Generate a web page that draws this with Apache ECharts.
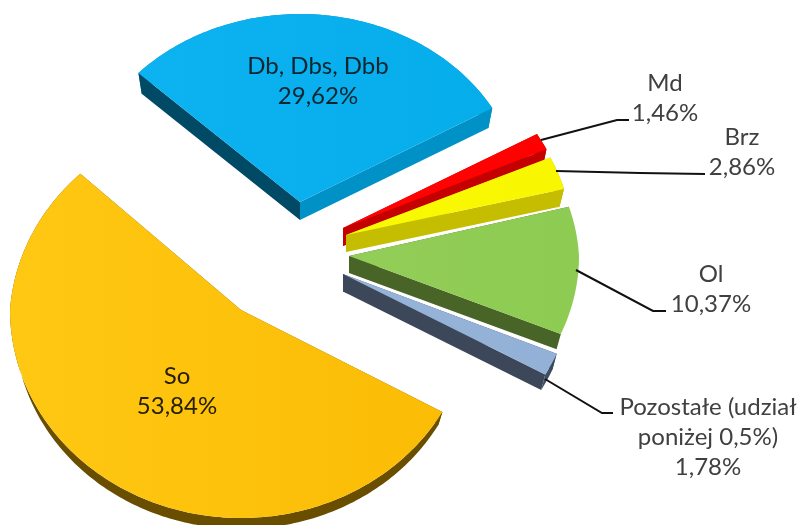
<!DOCTYPE html>
<html>
<head>
<meta charset="utf-8">
<style>html,body{margin:0;padding:0;background:#fff}#main{width:803px;height:525px}</style>
<script src="https://cdn.jsdelivr.net/npm/echarts@6/dist/echarts.min.js"></script>
</head>
<body>
<div id="main"></div>
<script>
var myChart = echarts.init(document.getElementById('main'));

// clockwise, starting from the upper left edge of Db
var categories = ['Db, Dbs, Dbb', 'Md', 'Brz', 'Ol', 'Pozostałe (udział\nponiżej 0,5%)', 'So'];
var shares = [29.62, 1.46, 2.86, 10.37, 1.78, 53.84];

// look of each slice: top colours, colour of the cut side, colour of the rim
var topLeft  = ['#0DB2F1', '#FF0505', '#FAF905', '#93CE58', '#96B4D8', '#FFC813'];
var topRight = ['#06ADEB', '#FF0000', '#F8F600', '#8DCB52', '#93B1D6', '#FBBC05'];
var sideLow  = ['#0092C6', '#C40000', '#C4BD00', '#486426', '#3C4859', '#6A4E00'];
var sideHigh = ['#004A66', '#D00000', '#C4BD00', '#486426', '#3C4859', '#6A4E00'];
var rimColor = ['#0092C6', '#C40000', '#C4BD00', null, '#3F4D60', '#6A4E00'];

// layout: apex of every exploded slice and its ellipse (perspective makes them differ)
var apexX = [300, 343, 346, 349, 343, 241];
var apexY = [202, 228, 235, 256, 274, 310];
var radX  = [222, 224, 225, 230, 232, 231];
var radY  = [188, 188, 185, 200, 205, 208];
var topShrink = [0, 0, 0, 0.05, 0, 0.065];
var depth = [18, 18, 17, 17, 17.5, 15];
var startAngle = 223.3;
var bottomScale = 0.98;

var labelX = [318, 665, 742, 711, 708, 177];
var labelY = [81, 98, 152, 289, 437, 391];
var labelColor = ['#0B2530', '#404040', '#404040', '#404040', '#404040', '#262000'];
var leaders = [
    null,
    [[541, 140], [617, 120], [629, 120]],
    [[556, 171], [640, 173], [705, 174]],
    [[576, 270], [653, 311], [666, 311]],
    [[545, 379], [602, 413], [613, 413]],
    null
];

var total = shares.reduce(function (a, b) { return a + b; }, 0);

function sliceAngles(idx) {
    var a = startAngle;
    for (var i = 0; i < idx; i++) {
        a += shares[i] / total * 360;
    }
    return [a, a + shares[idx] / total * 360];
}

function rimPoint(i, deg, scale, dy) {
    var t = deg * Math.PI / 180;
    var s = Math.sin(t);
    var k = scale * (s < 0 ? 1 + topShrink[i] * s : 1);
    return [
        apexX[i] + radX[i] * k * Math.cos(t),
        apexY[i] + radY[i] * k * s + dy
    ];
}

function poly(points, fill) {
    return {
        type: 'polygon',
        shape: { points: points },
        style: { fill: fill, stroke: null }
    };
}

function renderSlice(params, api) {
    var i = params.dataIndex;
    var ang = sliceAngles(i);
    var a0 = ang[0], a1 = ang[1];
    var d = depth[i];
    var topPts = [[apexX[i], apexY[i]]];
    var rimPts = [];
    var rimBack = [];
    for (var a = a0; ; a += 1) {
        var cur = Math.min(a, a1);
        var p = rimPoint(i, cur, 1, 0);
        topPts.push(p);
        rimPts.push(p);
        rimBack.unshift(rimPoint(i, cur, bottomScale, d));
        if (cur >= a1) break;
    }
    var apexBottom = [apexX[i], apexY[i] + d];
    var children = [];
    if (rimColor[i]) {
        children.push(poly(rimPts.concat(rimBack), rimColor[i]));
    }
    children.push(
        poly([[apexX[i], apexY[i]], rimPoint(i, a0, 1, 0), rimPoint(i, a0, bottomScale, d), apexBottom], sideHigh[i]),
        poly([[apexX[i], apexY[i]], rimPoint(i, a1, 1, 0), rimPoint(i, a1, bottomScale, d), apexBottom], sideLow[i]),
        poly(topPts, new echarts.graphic.LinearGradient(0, 0, 1, 0, [
            { offset: 0, color: topLeft[i] },
            { offset: 1, color: topRight[i] }
        ]))
    );
    return { type: 'group', children: children };
}

function renderLabel(params, api) {
    var i = params.dataIndex;
    var children = [];
    if (leaders[i]) {
        children.push({
            type: 'polyline',
            shape: { points: leaders[i] },
            style: { stroke: '#111', lineWidth: 2, fill: null }
        });
    }
    children.push({
        type: 'text',
        x: labelX[i],
        y: labelY[i],
        style: {
            text: categories[i] + '\n' + api.value(0).toFixed(2).replace('.', ',') + '%',
            fill: labelColor[i],
            font: '24px Lato',
            lineHeight: 30,
            align: 'center',
            verticalAlign: 'middle'
        }
    });
    return { type: 'group', children: children };
}

var seriesData = shares.map(function (v, i) {
    return { name: categories[i], value: [v] };
});

var option = {
    animation: false,
    backgroundColor: '#fff',
    series: [
        {
            type: 'custom',
            coordinateSystem: 'none',
            silent: true,
            renderItem: renderSlice,
            data: seriesData,
            z: 1
        },
        {
            type: 'custom',
            coordinateSystem: 'none',
            silent: true,
            renderItem: renderLabel,
            data: seriesData,
            z: 2
        }
    ]
};

myChart.setOption(option);
</script>
</body>
</html>
